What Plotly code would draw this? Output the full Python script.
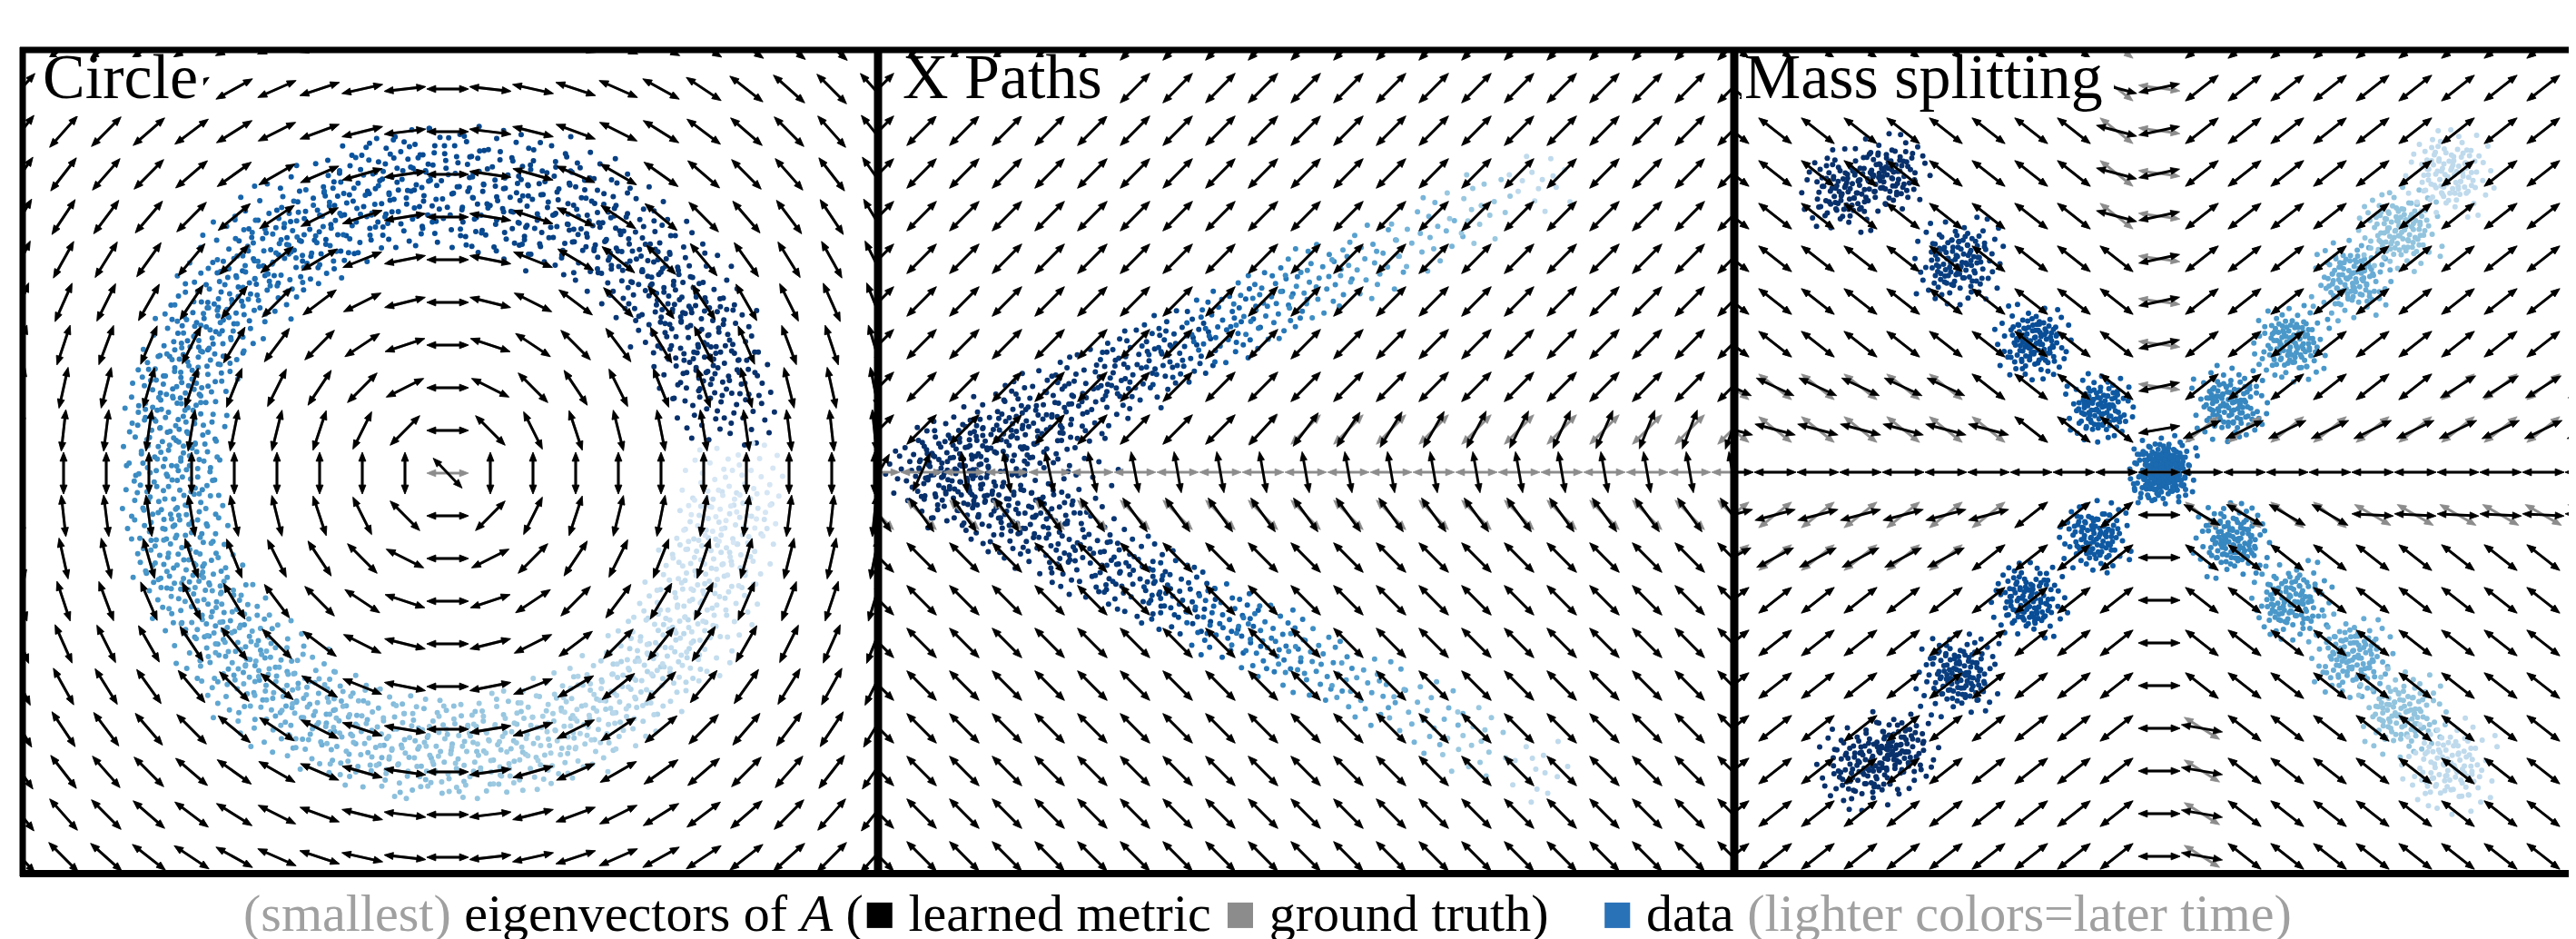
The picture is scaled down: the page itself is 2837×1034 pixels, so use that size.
import math
import plotly.graph_objects as go

W, H = 2837, 1034
PX = 47.0  # pixels per grid unit (arrow grid spacing)

# ---------------- data ----------------
PANEL_TITLES = ["Circle", "X Paths", "Mass splitting"]
GRID = list(range(-10, 11))

# Circle: ring samples (centre of local point clouds), time 0=early (dark) .. 1=late (light)
CIRCLE_X = [6.47, 6.07, 5.50, 4.76, 3.88, 2.88, 1.80, 0.66, -0.48, -1.62, -2.70, -3.70, -4.58, -5.32,
            -5.89, -6.29, -6.48, -6.48, -6.29, -5.89, -5.32, -4.58, -3.70, -2.70, -1.62, -0.48, 0.66,
            1.80, 2.88, 3.88, 4.76, 5.50, 6.07, 6.47, 6.66]
CIRCLE_Y = [1.82, 2.90, 3.90, 4.78, 5.52, 6.09, 6.49, 6.68, 6.68, 6.49, 6.09, 5.52, 4.78, 3.90,
            2.90, 1.82, 0.68, -0.46, -1.60, -2.68, -3.68, -4.56, -5.30, -5.87, -6.27, -6.46, -6.46,
            -6.27, -5.87, -5.30, -4.56, -3.68, -2.68, -1.60, -0.46]
CIRCLE_T = [0.0, 0.02, 0.04, 0.06, 0.09, 0.12, 0.15, 0.18, 0.21, 0.25, 0.30, 0.36, 0.42, 0.46,
            0.50, 0.53, 0.56, 0.58, 0.60, 0.63, 0.67, 0.71, 0.75, 0.78, 0.81, 0.84, 0.86,
            0.88, 0.90, 0.92, 0.94, 0.96, 0.97, 0.98, 1.0]
CIRCLE_SPREAD = [1.25, 1.3, 1.35, 1.4, 1.45, 1.5, 1.55, 1.55, 1.5, 1.45, 1.4, 1.35, 1.3, 1.25,
                 1.2, 1.2, 1.2, 1.2, 1.2, 1.25, 1.3, 1.3, 1.3, 1.3, 1.3, 1.25, 1.25,
                 1.25, 1.25, 1.25, 1.25, 1.25, 1.25, 1.25, 1.25]
CIRCLE_N = [64] * 35
CIRCLE_LAYERS = [1.0]
CIRCLE_CENTRE_LEARNED = -46   # learned eigenvector at the singular centre cell
CIRCLE_CENTRE_TRUTH = 0

# X Paths: cloud samples
XP_X = [-9.1, -8.0, -6.8, -5.6,
        -8.3, -7.2, -6.2, -5.1, -4.0, -3.0, -1.9, -0.85, 0.2, 1.5, 2.8, 4.0, 5.5,
        -8.3, -7.2, -6.2, -5.1, -4.0, -3.0, -1.9, -0.85, 0.2, 1.5, 2.8, 4.0, 5.5]
XP_Y = [0.0, 0.0, 0.1, 0.0,
        0.5, 0.95, 1.4, 1.9, 2.4, 2.9, 3.45, 4.0, 4.5, 4.95, 5.55, 6.2, 6.75,
        -0.5, -0.95, -1.4, -1.95, -2.45, -2.95, -3.5, -4.0, -4.55, -5.05, -5.7, -6.35, -7.0]
XP_T = [0.0, 0.0, 0.01, 0.02,
        0.0, 0.0, 0.02, 0.04, 0.08, 0.15, 0.35, 0.48, 0.58, 0.68, 0.78, 0.87, 0.95,
        0.0, 0.0, 0.02, 0.04, 0.08, 0.15, 0.35, 0.48, 0.58, 0.68, 0.78, 0.87, 0.95]
XP_SPREAD = [0.8, 1.2, 1.4, 1.3,
             0.9, 1.0, 1.05, 1.05, 1.0, 0.95, 0.95, 0.95, 0.95, 0.95, 0.95, 0.95, 0.9,
             0.9, 1.0, 1.05, 1.05, 1.0, 0.95, 0.95, 0.95, 0.95, 0.95, 0.95, 0.95, 0.9]
XP_N = [30, 40, 40, 34,
        40, 50, 50, 50, 48, 46, 42, 38, 32, 26, 22, 18, 14,
        40, 50, 50, 50, 48, 46, 42, 38, 32, 26, 22, 18, 14]
XP_LAYERS = [1.0]
XP_UPPER = 45
XP_LOWER = -45
XP_ROW_P1 = [45, 45, 45, 45, 45, 45, 45, 45, 45, 48, 53, 56, 58, 60, 62, 63, 65, 66, 68, 69, 70]
XP_ROW_0 = [60, 66, -82, -80, -78, -78, -79, -80, -80, -80, -80, -80, -80, -80, -80, -80, -80, -80, -80, -80, -80]
XP_ROW_M1 = -54

# Mass splitting: cluster samples
MS_X = [-7.4, -6.3, -4.7, -2.95, -1.4, 0.1, 0.05, -1.5, -3.05, -4.7, -7.0, -6.1,
        1.65, 3.1, 4.5, 5.65, 6.8, 1.7, 3.1, 4.5, 5.7, 6.8]
MS_Y = [6.6, 7.0, 4.95, 3.05, 1.5, 0.05, 0.0, -1.5, -3.0, -4.75, -6.9, -6.5,
        1.6, 3.0, 4.5, 5.7, 7.0, -1.6, -3.0, -4.3, -5.65, -6.9]
MS_T = [0.0, 0.0, 0.10, 0.22, 0.30, 0.40, 0.40, 0.30, 0.22, 0.10, 0.0, 0.0,
        0.55, 0.63, 0.74, 0.85, 0.95, 0.55, 0.63, 0.74, 0.85, 0.95]
MS_SPREAD = [1.05, 1.0, 1.1, 0.95, 0.85, 0.85, 0.7, 0.9, 0.95, 1.05, 1.1, 1.0,
             0.95, 0.95, 1.0, 1.05, 1.1, 0.95, 1.0, 1.05, 1.1, 1.2]
MS_N = [50, 45, 64, 60, 55, 64, 64, 55, 60, 64, 50, 45,
        60, 60, 60, 60, 55, 60, 60, 60, 60, 55]
MS_LAYERS = [1.0, 0.62]
MS_UPPER_LEFT, MS_UPPER_RIGHT, MS_LOWER_LEFT, MS_LOWER_RIGHT = -38, 38, 38, -38
# (col_from, col_to, row_from, row_to, learned_deg, truth_deg)
MS_OVERRIDES = [
    (-10, 10, 0, 0, 0, 0),
    (0, 0, 1, 1, 10, 10),
    (0, 0, 2, 10, 12, -8),
    (0, 0, -10, -1, 0, 0),
    (-1, -1, 6, 10, -15, -38),
    (-10, -4, 1, 1, -15, -38),
    (-10, -5, 2, 2, -25, -38),
    (-10, -4, -1, -1, 15, 38),
    (-10, -5, -2, -2, 28, 38),
    (1, 10, 1, 1, 26, 38),
    (7, 10, 2, 2, 32, 38),
    (1, 4, -1, -1, -30, -38),
    (5, 10, -1, -1, -3, -30),
    (1, 1, -10, -6, -10, -32),
]

# point-cloud stencil (unit offsets)
STENCIL = [
    (0.05, 0.12), (-0.22, 0.31), (0.41, -0.08), (-0.15, -0.44), (0.63, 0.37), (-0.58, -0.19), (0.27, 0.66), (-0.36, 0.72),
    (0.12, -0.71), (-0.81, 0.24), (0.77, -0.46), (-0.05, -0.12), (0.33, 0.21), (-0.47, 0.09), (0.19, -0.33), (-0.69, -0.61),
    (0.88, 0.06), (-0.28, -0.83), (0.52, -0.64), (-0.11, 0.52), (0.03, 0.93), (-0.93, -0.05), (0.46, 0.49), (-0.52, 0.47),
    (0.24, -0.17), (-0.32, -0.25), (0.71, -0.15), (-0.17, 0.05), (0.09, 0.36), (-0.64, 0.62), (0.58, 0.81), (-0.41, -0.56),
    (0.36, -0.42), (-0.07, -0.63), (0.15, 0.04), (-0.76, 0.41), (0.82, 0.58), (-0.24, 0.91), (0.61, -0.89), (-0.55, -0.37),
    (0.29, 0.43), (-0.38, 0.27), (0.47, 0.02), (-0.12, -0.29), (0.01, -0.42), (-0.87, -0.42), (0.95, -0.31), (-0.19, 0.68),
    (0.39, -0.93), (-0.60, -0.80), (0.72, 0.23), (-0.45, -0.03), (0.20, 0.79), (-0.30, 0.45), (0.55, -0.30), (-0.02, 0.25),
    (0.14, -0.52), (-0.70, 0.14), (0.43, 0.66), (-0.50, 0.80), (0.85, -0.70), (-0.90, 0.70), (0.66, 0.0), (-0.25, -0.05),
]

BLUES = [[0.0, "#08306b"], [0.25, "#08519c"], [0.45, "#2171b5"], [0.6, "#4292c6"],
         [0.75, "#6baed6"], [0.88, "#9ecae1"], [1.0, "#d6e6f4"]]
LEARNED_COLOR = "#000000"
TRUTH_COLOR = "#8c8c8c"

# ---------------- geometry ----------------
PANELS = [
    dict(x0=14, x1=958, cx=485, cy=513),
    dict(x0=958, x1=1902, cx=1430, cy=512),
    dict(x0=1902, x1=2837, cx=2370, cy=512),
]
TOP, BOTTOM = 47, 954
TIP = 0.49          # arrow tip distance from cell centre (grid units)
HEAD_LEN = 0.21
HEAD_HALFW = 0.082
SHAFT = 0.33

VARIANTS = [lambda a, b: (a, b), lambda a, b: (-a, b), lambda a, b: (a, -b), lambda a, b: (-a, -b),
            lambda a, b: (b, a), lambda a, b: (-b, a), lambda a, b: (b, -a), lambda a, b: (-b, -a)]


def cloud(xs, ys, spreads, ts, ns, layers, ax, size):
    px, py, pc = [], [], []
    for i, (x, y, s, t, n) in enumerate(zip(xs, ys, spreads, ts, ns)):
        for k, scale in enumerate(layers):
            v = VARIANTS[(i + 3 * k) % 8]
            for a, b in STENCIL[:n]:
                u, w = v(a, b)
                px.append(x + s * scale * u)
                py.append(y + s * scale * w)
                pc.append(t)
    return go.Scatter(x=px, y=py, mode="markers", xaxis="x" + ax, yaxis="y" + ax,
                      marker=dict(size=size, color=pc, colorscale=BLUES, cmin=0, cmax=1,
                                  line=dict(width=0)),
                      hoverinfo="skip", showlegend=False)


def arrows(angles, color, ax):
    lx, ly, hx, hy = [], [], [], []
    for (c, r), th in angles.items():
        t = math.radians(th)
        dx, dy = math.cos(t), math.sin(t)
        nx, ny = -dy, dx
        lx += [c - SHAFT * dx, c + SHAFT * dx, None]
        ly += [r - SHAFT * dy, r + SHAFT * dy, None]
        for s in (1, -1):
            tx, ty = c + s * TIP * dx, r + s * TIP * dy
            bx, by = c + s * (TIP - HEAD_LEN) * dx, r + s * (TIP - HEAD_LEN) * dy
            hx += [tx, bx + HEAD_HALFW * nx, bx - HEAD_HALFW * nx, tx, None]
            hy += [ty, by + HEAD_HALFW * ny, by - HEAD_HALFW * ny, ty, None]
    return [
        go.Scatter(x=lx, y=ly, mode="lines", xaxis="x" + ax, yaxis="y" + ax,
                   line=dict(color=color, width=2.9), hoverinfo="skip", showlegend=False),
        go.Scatter(x=hx, y=hy, mode="lines", xaxis="x" + ax, yaxis="y" + ax, fill="toself",
                   fillcolor=color, line=dict(color=color, width=0.8),
                   hoverinfo="skip", showlegend=False),
    ]


# Circle field: tangent to rings around the grid centre
circ_b, circ_g = {}, {}
for r in GRID:
    for c in GRID:
        if c == 0 and r == 0:
            circ_b[(c, r)] = CIRCLE_CENTRE_LEARNED
            circ_g[(c, r)] = CIRCLE_CENTRE_TRUTH
        else:
            a = math.degrees(math.atan2(r, c)) + 90
            circ_b[(c, r)] = a
            circ_g[(c, r)] = a

# X Paths field
xp_b, xp_g = {}, {}
for r in GRID:
    for i, c in enumerate(GRID):
        if r >= 2:
            b = g = XP_UPPER
        elif r == 1:
            b, g = XP_ROW_P1[i], XP_UPPER
        elif r == 0:
            b, g = XP_ROW_0[i], 0
        elif r == -1:
            b, g = XP_ROW_M1, XP_LOWER
        else:
            b = g = XP_LOWER
        xp_b[(c, r)] = b
        xp_g[(c, r)] = g

# Mass splitting field
ms_b, ms_g = {}, {}
for r in GRID:
    for c in GRID:
        if r > 0:
            a = MS_UPPER_LEFT if c < 0 else MS_UPPER_RIGHT
        else:
            a = MS_LOWER_LEFT if c < 0 else MS_LOWER_RIGHT
        ms_b[(c, r)] = a
        ms_g[(c, r)] = a
for c0, c1, r0, r1, b, g in MS_OVERRIDES:
    for c in range(c0, c1 + 1):
        for r in range(r0, r1 + 1):
            ms_b[(c, r)] = b
            ms_g[(c, r)] = g

traces = []
traces.append(cloud(CIRCLE_X, CIRCLE_Y, CIRCLE_SPREAD, CIRCLE_T, CIRCLE_N, CIRCLE_LAYERS, "", 6))
traces += arrows(circ_g, TRUTH_COLOR, "")
traces += arrows(circ_b, LEARNED_COLOR, "")
traces.append(cloud(XP_X, XP_Y, XP_SPREAD, XP_T, XP_N, XP_LAYERS, "2", 6))
traces += arrows(xp_g, TRUTH_COLOR, "2")
traces += arrows(xp_b, LEARNED_COLOR, "2")
traces.append(cloud(MS_X, MS_Y, MS_SPREAD, MS_T, MS_N, MS_LAYERS, "3", 6))
traces += arrows(ms_g, TRUTH_COLOR, "3")
traces += arrows(ms_b, LEARNED_COLOR, "3")

fig = go.Figure(traces)

layout = dict(width=W, height=H, autosize=False, margin=dict(l=0, r=0, t=0, b=0),
              paper_bgcolor="white", plot_bgcolor="white", showlegend=False)
for i, p in enumerate(PANELS):
    n = "" if i == 0 else str(i + 1)
    layout["xaxis" + n] = dict(domain=[p["x0"] / W, p["x1"] / W],
                               range=[(p["x0"] - p["cx"]) / PX, (p["x1"] - p["cx"]) / PX],
                               visible=False, fixedrange=True, anchor="y" + n)
    layout["yaxis" + n] = dict(domain=[1 - BOTTOM / H, 1 - TOP / H],
                               range=[(p["cy"] - BOTTOM) / PX, (p["cy"] - TOP) / PX],
                               visible=False, fixedrange=True, anchor="x" + n)
fig.update_layout(**layout)

# white boxes behind titles, then frame lines
title_boxes = [(36, 216), (983, 1220), (1910, 2320)]
shapes = []
for x0, x1 in title_boxes:
    shapes.append(dict(type="rect", xref="paper", yref="paper", x0=x0 / W, x1=x1 / W,
                       y0=1 - 120 / H, y1=1 - 55 / H, fillcolor="white", line=dict(width=0),
                       layer="above"))


def hline(y, x0, x1, w):
    return dict(type="line", xref="paper", yref="paper", x0=x0 / W, x1=x1 / W, y0=1 - y / H,
                y1=1 - y / H, line=dict(color="black", width=w), layer="above")


def vline(x, w):
    return dict(type="line", xref="paper", yref="paper", x0=x / W, x1=x / W, y0=1 - 957 / H,
                y1=1 - 44 / H, line=dict(color="black", width=w), layer="above")


shapes += [hline(47, 14, W, 7), hline(954, 14, W, 8), vline(17, 7), vline(959, 9), vline(1902, 9)]
fig.update_layout(shapes=shapes)

ann = []
for (x0, _), title in zip(title_boxes, PANEL_TITLES):
    ann.append(dict(text=title, xref="paper", yref="paper", x=(x0 + 1) / W, y=1 - 36 / H,
                    xanchor="left", yanchor="top", showarrow=False,
                    font=dict(family="Liberation Serif", size=70, color="black")))
caption = ('<span style="color:#a0a0a0">(smallest)</span> eigenvectors of <i>A</i> ('
           '<span style="color:#000000">■</span> learned metric '
           '<span style="color:#8c8c8c">■</span> ground truth)&nbsp;&nbsp;&nbsp; '
           '<span style="color:#2a72b8">■</span> data '
           '<span style="color:#a0a0a0">(lighter colors=later time)</span>')
ann.append(dict(text=caption, xref="paper", yref="paper", x=1388 / W, y=1 - 997 / H,
                xanchor="center", yanchor="middle", showarrow=False,
                font=dict(family="Liberation Serif", size=58, color="black")))
fig.update_layout(annotations=ann)

fig.write_html("out.html")
